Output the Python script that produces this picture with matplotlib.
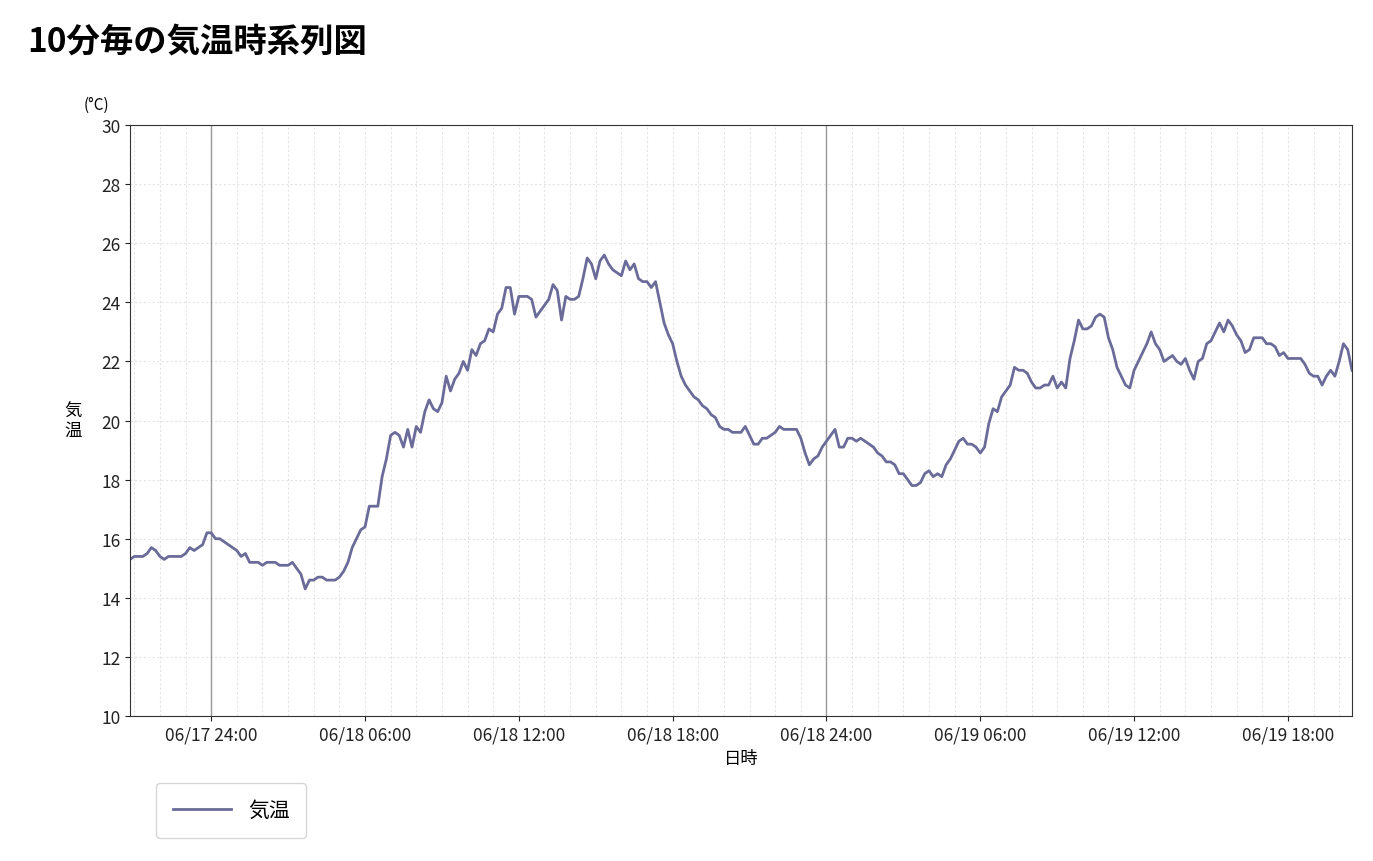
import matplotlib
matplotlib.use("Agg")
import matplotlib.pyplot as plt
import numpy as np
from matplotlib.ticker import FuncFormatter, MultipleLocator

plt.rcParams["font.family"] = ["Noto Sans CJK JP"]

start_hour = 20 + 50/60  # 06/17 20:50
temps = [15.3,
 15.4,15.4,15.4,15.5,15.7,15.6,
 15.4,15.3,15.4,15.4,15.4,15.4,
 15.5,15.7,15.6,15.7,15.8,16.2,
 16.2,16.0,16.0,15.9,15.8,15.7,
 15.6,15.4,15.5,15.2,15.2,15.2,
 15.1,15.2,15.2,15.2,15.1,15.1,
 15.1,15.2,15.0,14.8,14.3,14.6,
 14.6,14.7,14.7,14.6,14.6,14.6,
 14.7,14.9,15.2,15.7,16.0,16.3,
 16.4,17.1,17.1,17.1,18.1,18.7,
 19.5,19.6,19.5,19.1,19.7,19.1,
 19.8,19.6,20.3,20.7,20.4,20.3,
 20.6,21.5,21.0,21.4,21.6,22.0,
 21.7,22.4,22.2,22.6,22.7,23.1,
 23.0,23.6,23.8,24.5,24.5,23.6,
 24.2,24.2,24.2,24.1,23.5,23.7,
 23.9,24.1,24.6,24.4,23.4,24.2,
 24.1,24.1,24.2,24.8,25.5,25.3,
 24.8,25.4,25.6,25.3,25.1,25.0,
 24.9,25.4,25.1,25.3,24.8,24.7,
 24.7,24.5,24.7,24.0,23.3,22.9,
 22.6,22.0,21.5,21.2,21.0,20.8,
 20.7,20.5,20.4,20.2,20.1,19.8,
 19.7,19.7,19.6,19.6,19.6,19.8,
 19.5,19.2,19.2,19.4,19.4,19.5,
 19.6,19.8,19.7,19.7,19.7,19.7,
 19.4,18.9,18.5,18.7,18.8,19.1,
 19.3,19.5,19.7,19.1,19.1,19.4,
 19.4,19.3,19.4,19.3,19.2,19.1,
 18.9,18.8,18.6,18.6,18.5,18.2,
 18.2,18.0,17.8,17.8,17.9,18.2,
 18.3,18.1,18.2,18.1,18.5,18.7,
 19.0,19.3,19.4,19.2,19.2,19.1,
 18.9,19.1,19.9,20.4,20.3,20.8,
 21.0,21.2,21.8,21.7,21.7,21.6,
 21.3,21.1,21.1,21.2,21.2,21.5,
 21.1,21.3,21.1,22.1,22.7,23.4,
 23.1,23.1,23.2,23.5,23.6,23.5,
 22.8,22.4,21.8,21.5,21.2,21.1,
 21.7,22.0,22.3,22.6,23.0,22.6,
 22.4,22.0,22.1,22.2,22.0,21.9,
 22.1,21.7,21.4,22.0,22.1,22.6,
 22.7,23.0,23.3,23.0,23.4,23.2,
 22.9,22.7,22.3,22.4,22.8,22.8,
 22.8,22.6,22.6,22.5,22.2,22.3,
 22.1,22.1,22.1,22.1,21.9,21.6,
 21.5,21.5,21.2,21.5,21.7,21.5,
 22.0,22.6,22.4,21.7]
hours = start_hour + np.arange(len(temps)) / 6.0
tick_hours = [24, 30, 36, 42, 48, 54, 60, 66]
tick_labels = ["06/17 24:00", "06/18 06:00", "06/18 12:00", "06/18 18:00",
               "06/18 24:00", "06/19 06:00", "06/19 12:00", "06/19 18:00"]

fig = plt.figure(figsize=(13.73, 8.62), dpi=100)
ax = fig.add_axes([0.0947, 0.1682, 0.89, 0.6856])
ax.set_xlim(hours[0], hours[-1])
ax.set_ylim(10, 30)
ax.yaxis.set_major_locator(MultipleLocator(2))
ax.set_xticks(tick_hours)
ax.set_xticklabels(tick_labels)
ax.xaxis.set_minor_locator(MultipleLocator(1))
ax.grid(which="minor", axis="x", color="#e4e4e4", linestyle=(0, (2, 2)), linewidth=0.8)
ax.grid(which="major", axis="x", color="#e4e4e4", linestyle=(0, (2, 2)), linewidth=0.8)
ax.grid(which="major", axis="y", color="#e4e4e4", linestyle=(0, (2, 2)), linewidth=0.8)
for h in (24, 48):
    ax.axvline(h, color="#999999", linewidth=1)
ax.plot(hours, temps, color="#6b6b99", linewidth=2, label="気温")
ax.tick_params(labelsize=12.5, colors="#222222")
ax.tick_params(which="minor", length=0)
for s in ax.spines.values():
    s.set_color("#333333")
ax.set_xlabel("日時", fontsize=12.5)
ax.set_ylabel("気\n温", fontsize=12.5, rotation=0, va="center", labelpad=20, linespacing=1.1)
fig.text(0.0612, 0.873, "(°C)", fontsize=11)
fig.text(0.02, 0.94, "10分毎の気温時系列図", fontsize=24, fontweight="bold")
ax.legend(loc="upper left", bbox_to_anchor=(0.013, -0.095), fontsize=15,
          handlelength=2.8, borderpad=0.8, fancybox=True, edgecolor="#cccccc")
fig.savefig("out.png", dpi=100)
